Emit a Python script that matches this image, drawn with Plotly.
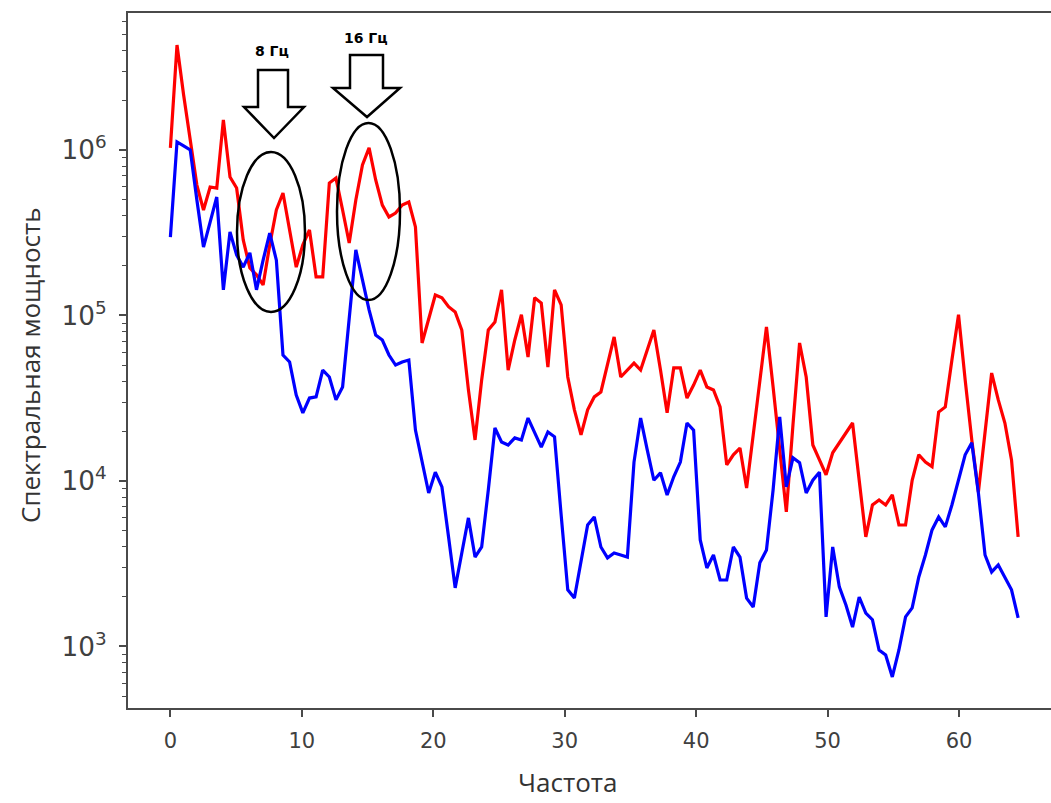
import numpy as np
import plotly.graph_objects as go

# ---- data ----
f_max = 64.5
n_points = 129
freq = np.linspace(0.0, f_max, n_points)  # regular FFT frequency grid, Hz

red_power = [
    1.03e6, 4.31e6, 2.15e6, 1.15e6, 6.14e5, 4.34e5, 5.98e5, 5.89e5, 1.52e6, 6.87e5,
    5.89e5, 2.86e5, 1.94e5, 1.76e5, 1.53e5, 2.67e5, 4.34e5, 5.50e5, 3.29e5, 1.96e5,
    2.67e5, 3.29e5, 1.71e5, 1.71e5, 6.32e5, 6.77e5, 4.34e5, 2.74e5, 4.99e5, 8.12e5,
    1.03e6, 6.59e5, 4.65e5, 3.94e5, 4.16e5, 4.65e5, 4.85e5, 3.43e5, 6.82e4, 9.66e4,
    1.33e5, 1.28e5, 1.13e5, 1.05e5, 8.17e4, 3.55e4, 1.77e4, 4.08e4, 8.17e4, 9.13e4,
    1.43e5, 4.68e4, 7.11e4, 1.01e5, 5.61e4, 1.28e5, 1.19e5, 4.88e4, 1.43e5, 1.16e5,
    4.25e4, 2.69e4, 1.90e4, 2.69e4, 3.22e4, 3.45e4, 5.02e4, 7.42e4, 4.25e4, 4.68e4,
    5.16e4, 4.68e4, 6.19e4, 8.17e4, 4.68e4, 2.58e4, 4.82e4, 4.82e4, 3.17e4, 3.80e4,
    4.68e4, 3.70e4, 3.55e4, 2.80e4, 1.25e4, 1.44e4, 1.58e4, 9.07e3, 1.90e4, 4.08e4,
    8.52e4, 3.70e4, 1.54e4, 6.50e3, 2.18e4, 6.82e4, 4.25e4, 1.65e4, 1.34e4, 1.09e4,
    1.48e4, 1.70e4, 1.98e4, 2.24e4, 1.01e4, 4.59e3, 7.16e3, 7.68e3, 7.16e3, 8.23e3,
    5.42e3, 5.42e3, 1.01e4, 1.44e4, 1.30e4, 1.22e4, 2.61e4, 2.80e4, 5.38e4, 1.01e5,
    4.08e4, 1.77e4, 8.58e3, 2.03e4, 4.49e4, 3.09e4, 2.24e4, 1.34e4, 4.59e3,
]

blue_power = [
    2.98e5, 1.12e6, 1.06e6, 1.00e6, 4.99e5, 2.59e5, 3.67e5, 5.20e5, 1.43e5, 3.20e5,
    2.32e5, 1.96e5, 2.39e5, 1.43e5, 2.16e5, 3.15e5, 2.16e5, 5.77e4, 5.24e4, 3.31e4,
    2.58e4, 3.17e4, 3.22e4, 4.68e4, 4.25e4, 3.09e4, 3.70e4, 9.39e4, 2.49e5, 1.64e5,
    1.08e5, 7.62e4, 7.11e4, 5.77e4, 5.02e4, 5.24e4, 5.38e4, 2.03e4, 1.30e4, 8.46e3,
    1.13e4, 9.20e3, 4.59e3, 2.26e3, 3.67e3, 5.98e3, 3.47e3, 3.99e3, 8.82e3, 2.09e4,
    1.72e4, 1.65e4, 1.82e4, 1.77e4, 2.40e4, 1.98e4, 1.60e4, 1.98e4, 1.85e4, 6.23e3,
    2.20e3, 1.96e3, 3.33e3, 5.42e3, 6.06e3, 3.99e3, 3.43e3, 3.67e3, 3.57e3, 3.47e3,
    1.30e4, 2.40e4, 1.54e4, 1.01e4, 1.12e4, 8.23e3, 1.06e4, 1.30e4, 2.24e4, 2.03e4,
    4.40e3, 2.98e3, 3.57e3, 2.52e3, 2.52e3, 3.99e3, 3.47e3, 1.96e3, 1.73e3, 3.20e3,
    3.83e3, 8.82e3, 2.44e4, 9.20e3, 1.38e4, 1.29e4, 8.46e3, 1.01e4, 1.13e4, 1.51e3,
    3.99e3, 2.29e3, 1.78e3, 1.31e3, 1.99e3, 1.59e3, 1.45e3, 9.52e2, 8.88e2, 6.54e2,
    9.52e2, 1.51e3, 1.71e3, 2.63e3, 3.57e3, 5.06e3, 6.06e3, 5.28e3, 7.16e3, 1.01e4,
    1.44e4, 1.70e4, 8.46e3, 3.57e3, 2.82e3, 3.11e3, 2.63e3, 2.20e3, 1.49e3,
]

x_ticks = [0, 10, 20, 30, 40, 50, 60]
x_title = "Частота"
y_title = "Спектральная мощность"
peak_labels = ["8 Гц", "16 Гц"]

# ---- layout geometry (pixels) ----
W, H = 1051, 803
L, R, T, B = 128, 1051, 13, 708


def px(x):
    return (x - L) / (R - L)


def py(y):
    return (B - y) / (B - T)


def poly(points):
    return "M " + " L ".join(f"{px(a):.5f},{py(b):.5f}" for a, b in points) + " Z"


fig = go.Figure()
fig.add_trace(go.Scatter(x=freq, y=red_power, mode="lines",
                         line=dict(color="#ff0000", width=3.2), showlegend=False))
fig.add_trace(go.Scatter(x=freq, y=blue_power, mode="lines",
                         line=dict(color="#0000ff", width=3.2), showlegend=False))

axis_col = "#4a4a4a"
tick_font = dict(family="DejaVu Sans", size=21, color="#404040")

fig.update_layout(
    width=W, height=H,
    margin=dict(l=L, r=W - R, t=T, b=H - B, pad=0),
    plot_bgcolor="white", paper_bgcolor="white",
    showlegend=False,
    xaxis=dict(range=[-3.225, 67.0], tickvals=x_ticks, ticks="outside", ticklen=7,
               tickwidth=1.8, tickcolor=axis_col, showline=True, linecolor=axis_col,
               linewidth=2.2, mirror=True, showgrid=False, zeroline=False,
               tickfont=tick_font, ticklabelstandoff=6, automargin=False),
    yaxis=dict(type="log", range=[2.628, 6.828], dtick=1, exponentformat="power",
               ticks="outside", ticklen=7, tickwidth=1.8, tickcolor=axis_col,
               showline=True, linecolor=axis_col, linewidth=2.2, showgrid=False,
               zeroline=False, tickfont=tick_font, ticklabelstandoff=8,
               automargin=False,
               minor=dict(ticks="outside", ticklen=4, tickwidth=1.2, tickcolor=axis_col,
                          dtick="D1", showgrid=False)),
)

# axis titles
title_font = dict(family="Open Sans", size=26, color="#333333")
fig.add_annotation(xref="paper", yref="paper", x=px(568), y=py(782), text=x_title,
                   showarrow=False, font=title_font, borderpad=0,
                   xanchor="center", yanchor="middle")
fig.add_annotation(xref="paper", yref="paper", x=px(30), y=py(365), text=y_title,
                   showarrow=False, textangle=-90, font=title_font, borderpad=0,
                   xanchor="center", yanchor="middle")

# hollow block arrows
arrow1 = [(258, 70), (288, 70), (288, 107), (304, 107), (274, 138), (244, 107), (258, 107)]
arrow2 = [(350, 55), (383, 55), (383, 88), (400, 88), (367, 117), (333, 88), (350, 88)]
for a in (arrow1, arrow2):
    fig.add_shape(type="path", xref="paper", yref="paper", path=poly(a),
                  line=dict(color="black", width=2.5), fillcolor="white")

# ellipses
for (x0, x1, y0, y1) in [(237, 305, 152, 312), (337, 400, 123, 300)]:
    fig.add_shape(type="circle", xref="paper", yref="paper",
                  x0=px(x0), x1=px(x1), y0=py(y1), y1=py(y0),
                  line=dict(color="black", width=2.5), fillcolor="rgba(0,0,0,0)")

# labels
for txt, (cx, cy) in zip(peak_labels, [(272, 51), (366, 38)]):
    fig.add_annotation(xref="paper", yref="paper", x=px(cx), y=py(cy),
                       text=f"<b>{txt}</b>", showarrow=False,
                       font=dict(family="DejaVu Sans", size=14, color="black"),
                       xanchor="center", yanchor="middle")

fig.write_html("out.html",
               config={"displayModeBar": False},
               post_script="document.body.style.margin='0';"
                           "document.body.style.overflow='hidden';")
